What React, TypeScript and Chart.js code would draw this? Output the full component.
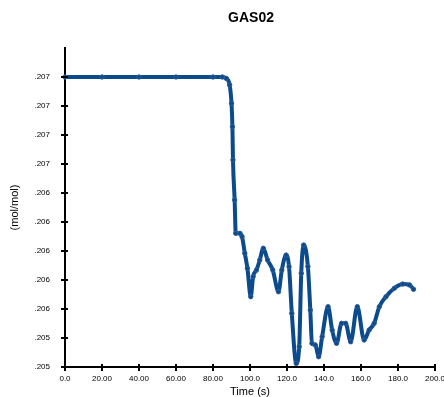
import React, { useEffect, useRef } from "react";
import { Chart, registerables } from "chart.js";

Chart.register(...registerables);

const chartTitle = "GAS02";
const xAxisTitle = "Time (s)";
const yAxisTitle = "(mol/mol)";

const timeValues = [
  0, 20, 40, 60, 80, 85, 87.2, 89, 90, 90.5, 90.8, 91.7, 92.3, 94.5, 95.7, 97.2, 98.6,
  100.4, 101.7, 103.5, 105.3, 107.2, 109.5, 112.3, 115.4, 117.2, 119.5, 121.1, 122.6,
  125, 126.6, 127.7, 129, 131.3, 132.6, 133.5, 135.3, 137.1, 139, 142.2, 144.4, 146.8,
  149.5, 151.7, 154.4, 158, 161.7, 164.4, 167.1, 169.9, 173.5, 178, 182.6, 186.2, 188.4,
];

const gasValues = [
  0.2072, 0.2072, 0.2072, 0.2072, 0.2072, 0.2072, 0.20719, 0.207145, 0.207019, 0.206857,
  0.206628, 0.206352, 0.206122, 0.206122, 0.206099, 0.205984, 0.205881, 0.205685,
  0.205823, 0.205869, 0.205938, 0.206019, 0.205938, 0.205869, 0.205719, 0.205869,
  0.205972, 0.205892, 0.20557, 0.205225, 0.20534, 0.205846, 0.206041, 0.205892,
  0.205593, 0.205363, 0.205352, 0.205271, 0.205409, 0.205616, 0.205455, 0.205363,
  0.205501, 0.205501, 0.205374, 0.205616, 0.205386, 0.205455, 0.205501, 0.205616,
  0.205685, 0.205743, 0.205772, 0.205766, 0.205736,
];

const xTickValues = [0, 20, 40, 60, 80, 100, 120, 140, 160, 180, 200];
const xTickLabels = ["0.0", "20.00", "40.00", "60.00", "80.00", "100.0", "120.0", "140.0", "160.0", "180.0", "200.0"];
const yTickValues = [0.2072, 0.207, 0.2068, 0.2066, 0.2064, 0.2062, 0.206, 0.2058, 0.2056, 0.2054, 0.2052];
const yTickLabels = [".207", ".207", ".207", ".207", ".206", ".206", ".206", ".206", ".206", ".205", ".205"];

const lineColor = "#0b4a8c";
const tickFont = { family: "'Liberation Sans Narrow', 'Liberation Sans', Arial, sans-serif", size: 8 };

const crossTicksPlugin = {
  id: "crossTicks",
  afterDraw(chart: any) {
    const { ctx, scales } = chart;
    const xs = scales.x;
    const ys = scales.y;
    ctx.save();
    ctx.strokeStyle = "#000";
    ctx.lineWidth = 2;
    const ax = xs.left;
    const ay = ys.bottom;
    ys.ticks.forEach((t: any) => {
      const y = Math.round(ys.getPixelForValue(t.value));
      ctx.beginPath();
      ctx.moveTo(ax - 4, y);
      ctx.lineTo(ax + 3, y);
      ctx.stroke();
    });
    xs.ticks.forEach((t: any) => {
      const x = Math.round(xs.getPixelForValue(t.value));
      ctx.beginPath();
      ctx.moveTo(x, ay - 3);
      ctx.lineTo(x, ay + 4);
      ctx.stroke();
    });
    ctx.restore();
  },
};

const titlePlugin = {
  id: "centeredTitle",
  afterDraw(chart: any) {
    const { ctx, chartArea } = chart;
    ctx.save();
    ctx.fillStyle = "#000";
    ctx.font = "bold 14px 'Liberation Sans', Arial, sans-serif";
    ctx.textAlign = "center";
    ctx.textBaseline = "middle";
    ctx.fillText(chartTitle, (chartArea.left + chartArea.right) / 2 + 1, 18);
    ctx.restore();
  },
};

export default function App() {
  const canvasRef = useRef<HTMLCanvasElement | null>(null);

  useEffect(() => {
    document.body.style.margin = "0";
    const canvas = canvasRef.current;
    if (!canvas) return;
    const chart = new Chart(canvas, {
      type: "line",
      data: {
        datasets: [
          {
            data: timeValues.map((t, i) => ({ x: t, y: gasValues[i] })),
            borderColor: lineColor,
            backgroundColor: lineColor,
            borderWidth: 4,
            pointRadius: 2.2,
            pointBorderWidth: 1,
            pointBorderColor: "#2f5f96",
            pointBackgroundColor: lineColor,
            cubicInterpolationMode: "monotone",
            fill: false,
            clip: false as any,
          },
        ],
      },
      options: {
        responsive: false,
        animation: false,
        maintainAspectRatio: false,
        layout: { padding: { top: 48, left: 0, right: 8, bottom: 0 } },
        plugins: {
          legend: { display: false },
          title: { display: false },
          tooltip: { enabled: false },
        },
        scales: {
          x: {
            type: "linear",
            min: 0,
            max: 200,
            afterBuildTicks: (scale: any) => {
              scale.ticks = xTickValues.map((v) => ({ value: v }));
            },
            afterFit: (scale: any) => {
              scale.height = 30;
            },
            grid: { display: false },
            border: { display: true, color: "#000", width: 2 },
            ticks: {
              color: "#000",
              font: tickFont,
              padding: -1,
              maxRotation: 0,
              autoSkip: false,
              callback: (_v: any, i: number) => xTickLabels[i],
            },
            title: {
              display: true,
              text: xAxisTitle,
              color: "#000",
              font: { family: "'Liberation Sans', Arial, sans-serif", size: 11, lineHeight: 1 },
              padding: { top: 0, bottom: 0 },
            },
          },
          y: {
            type: "linear",
            min: 0.2052,
            max: 0.2074,
            afterBuildTicks: (scale: any) => {
              scale.ticks = yTickValues.map((v) => ({ value: v }));
            },
            afterFit: (scale: any) => {
              scale.width = 65;
            },
            grid: { display: false },
            border: { display: true, color: "#000", width: 2 },
            ticks: {
              color: "#000",
              font: tickFont,
              padding: 7,
              autoSkip: false,
              callback: (_v: any, i: number) => yTickLabels[i],
            },
            title: {
              display: true,
              text: yAxisTitle,
              color: "#000",
              font: { family: "'Liberation Sans', Arial, sans-serif", size: 11 },
              padding: { top: 8, bottom: 0 },
            },
          },
        },
      },
      plugins: [crossTicksPlugin, titlePlugin],
    });
    return () => chart.destroy();
  }, []);

  return (
    <div style={{ position: "absolute", left: 0, top: 0, width: 444, height: 397, background: "#fff" }}>
      <canvas ref={canvasRef} width={444} height={397} style={{ width: 444, height: 397 }} />
    </div>
  );
}
